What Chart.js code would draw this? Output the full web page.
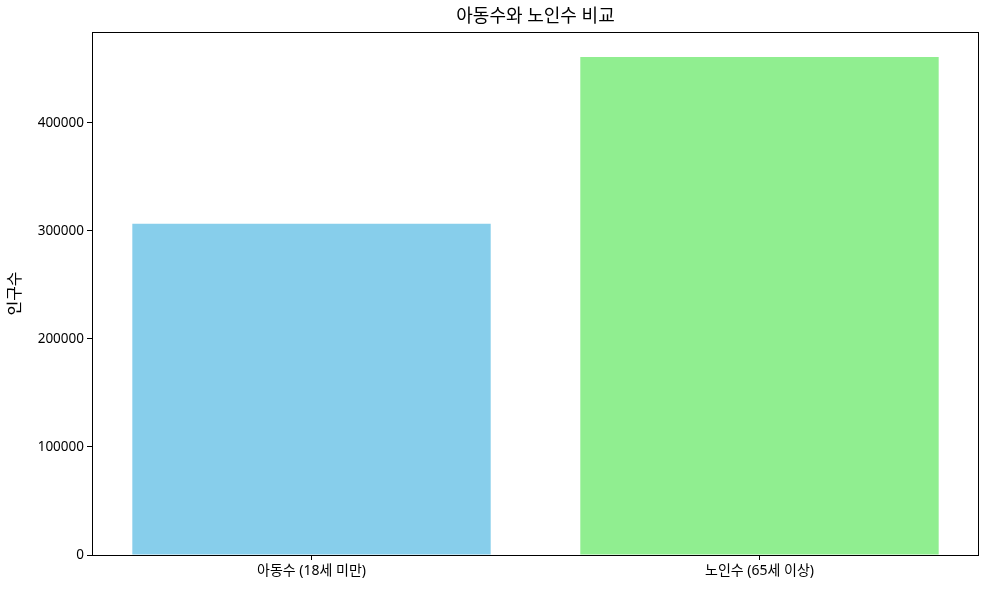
<!DOCTYPE html>
<html>
<head>
<meta charset="utf-8">
<script src="https://cdn.jsdelivr.net/npm/chart.js@4"></script>
<style>
  html, body { margin: 0; padding: 0; background: #fff; }
  #wrap { width: 989px; height: 589px; }
</style>
</head>
<body>
<div id="wrap"><canvas id="chart"></canvas></div>
<script>
// data
const categories = ['아동수 (18세 미만)', '노인수 (65세 이상)'];
const populations = [306500, 461000];
const barColors = ['#87CEEB', '#90EE90'];
const yTicks = [0, 100000, 200000, 300000, 400000];
const chartTitle = '아동수와 노인수 비교';

const FONT = "'Noto Sans', 'Noto Sans CJK KR', sans-serif";

// box around the plot area + title centred over the axes (matplotlib style)
const frame = {
    id: 'frame',
    afterDatasetsDraw(chart) {
        const { ctx, chartArea: a } = chart;
        ctx.save();
        ctx.strokeStyle = '#000';
        ctx.lineWidth = 1;
        ctx.strokeRect(a.left + 0.5, a.top + 0.5, a.right - a.left - 1, a.bottom - a.top);
        ctx.fillStyle = '#000';
        ctx.font = '18px ' + FONT;
        ctx.textAlign = 'center';
        ctx.textBaseline = 'middle';
        ctx.fillText(chartTitle, (a.left + a.right) / 2, a.top - 15);
        ctx.restore();
    }
};

// bars sit at positions 0, 1 on a numeric axis so the side margins match matplotlib
const points = populations.map((v, i) => ({ x: i, y: v }));

new Chart(document.getElementById('chart'), {
    type: 'bar',
    data: {
        datasets: [{
            data: points,
            backgroundColor: barColors,
            borderWidth: 0,
            barPercentage: 0.8,
            categoryPercentage: 1
        }]
    },
    options: {
        responsive: true,
        maintainAspectRatio: false,
        animation: false,
        layout: { padding: { left: 0, right: 10, top: 32, bottom: 0 } },
        plugins: {
            legend: { display: false },
            tooltip: { enabled: false },
            title: { display: false }
        },
        scales: {
            x: {
                type: 'linear',
                offset: false,
                min: -0.49,
                max: 1.49,
                grid: { drawOnChartArea: false, offset: false, color: '#000', tickLength: 5 },
                border: { display: false },
                ticks: {
                    color: '#000',
                    font: { family: FONT, size: 14 },
                    padding: 3,
                    callback: v => categories[v]
                },
                afterBuildTicks(scale) { scale.ticks = categories.map((c, i) => ({ value: i })); },
                afterFit(scale) { scale.height = 34; }
            },
            y: {
                min: 0,
                max: 484050,
                grid: { drawOnChartArea: false, color: '#000', tickLength: 5 },
                border: { display: false },
                ticks: {
                    color: '#000',
                    font: { family: FONT, size: 13.5 },
                    padding: 3,
                    callback: v => String(v)
                },
                afterBuildTicks(scale) { scale.ticks = yTicks.map(v => ({ value: v })); },
                title: {
                    display: true,
                    text: '인구수',
                    color: '#000',
                    font: { family: FONT, size: 16 },
                    padding: { top: 6, bottom: 0 }
                },
                afterFit(scale) { scale.width = 92; }
            }
        }
    },
    plugins: [frame]
});
</script>
</body>
</html>
